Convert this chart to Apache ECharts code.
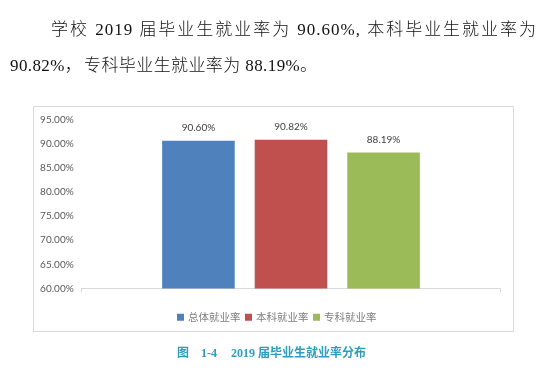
<!DOCTYPE html>
<html>
<head>
<meta charset="utf-8">
<script src="https://cdn.jsdelivr.net/npm/echarts@6/dist/echarts.min.js"></script>
<style>
html,body{margin:0;padding:0;background:#fff;}
#wrap{position:relative;width:548px;height:373px;overflow:hidden;}
#chart{position:absolute;left:0;top:0;width:548px;height:373px;}
.para{position:absolute;font-family:"Liberation Serif","Noto Sans CJK SC Light","Noto Sans CJK SC DemiLight","Noto Sans CJK SC",serif;font-size:17px;line-height:20px;color:#111;white-space:nowrap;font-weight:300;}
#l1{left:51px;top:20px;width:486px;text-align:justify;text-align-last:justify;text-justify:inter-character;letter-spacing:1px;white-space:normal;}
#l2{left:10px;top:56px;letter-spacing:0.4px;}
</style>
</head>
<body>
<div id="wrap">
<div id="chart"></div>
<div class="para" id="l1">学校 2019 届毕业生就业率为 90.60%, 本科毕业生就业率为</div>
<div class="para" id="l2">90.82%，&#8202;专科毕业生就业率为 88.19%。</div>
</div>
<script>
var categories = [''];
var seriesNames = ['总体就业率', '本科就业率', '专科就业率'];
var seriesValues = [90.60, 90.82, 88.19];
var seriesColors = ['#4F81BD', '#C0504D', '#9BBB59'];
var yTicks = { min: 60, max: 95, interval: 5 };
var captionNo = '图    1-4';
var captionText = '2019 届毕业生就业率分布';

var chart = echarts.init(document.getElementById('chart'), null, { renderer: 'canvas' });
var series = seriesNames.map(function (name, i) {
  return {
    name: name,
    type: 'bar',
    data: [seriesValues[i]],
    barWidth: 72.6,
    barGap: '27.5%',
    itemStyle: { color: seriesColors[i] },
    label: {
      show: true,
      position: 'top',
      distance: 8,
      color: '#404040',
      fontSize: 10,
      fontFamily: 'Lato, "Liberation Sans", sans-serif',
      formatter: function (p) { return p.value.toFixed(2) + '%'; }
    }
  };
});

var capStyle = {
  fill: '#2F9CBD',
  fontSize: 12,
  fontWeight: 'bold',
  fontFamily: '"Liberation Serif", "Noto Sans CJK SC", serif',
  textVerticalAlign: 'middle'
};

chart.setOption({
  animation: false,
  graphic: [{
    type: 'rect',
    shape: { x: 33.5, y: 106.5, width: 480, height: 225 },
    style: { fill: 'none', stroke: '#D9D9D9', lineWidth: 1 },
    silent: true,
    z: -1
  }, {
    type: 'text',
    x: 177, y: 354,
    style: Object.assign({ text: captionNo }, capStyle)
  }, {
    type: 'text',
    x: 231, y: 354,
    style: Object.assign({ text: captionText }, capStyle)
  }],
  legend: {
    data: seriesNames,
    left: 172,
    top: 307,
    icon: 'rect',
    itemWidth: 7,
    itemHeight: 7,
    itemGap: 4.5,
    textStyle: {
      color: '#7F7F7F',
      fontSize: 10.5,
      fontFamily: '"Noto Sans CJK SC", sans-serif',
      padding: [0, 0, 0, -1]
    }
  },
  grid: { left: 81.7, right: 47.7, top: 119.5, bottom: 84.5, containLabel: false },
  xAxis: {
    type: 'category',
    data: categories,
    axisLine: { show: true, lineStyle: { color: '#D9D9D9', width: 1 } },
    axisTick: { show: true, length: 4, lineStyle: { color: '#D9D9D9' } },
    axisLabel: { show: false },
    splitLine: { show: false }
  },
  yAxis: {
    type: 'value',
    min: yTicks.min,
    max: yTicks.max,
    interval: yTicks.interval,
    axisLine: { show: false },
    axisTick: { show: false },
    splitLine: { show: false },
    axisLabel: {
      color: '#595959',
      fontSize: 10,
      margin: 8,
      fontFamily: 'Lato, "Liberation Sans", sans-serif',
      formatter: function (v) { return v.toFixed(2) + '%'; }
    }
  },
  series: series
});
</script>
</body>
</html>
